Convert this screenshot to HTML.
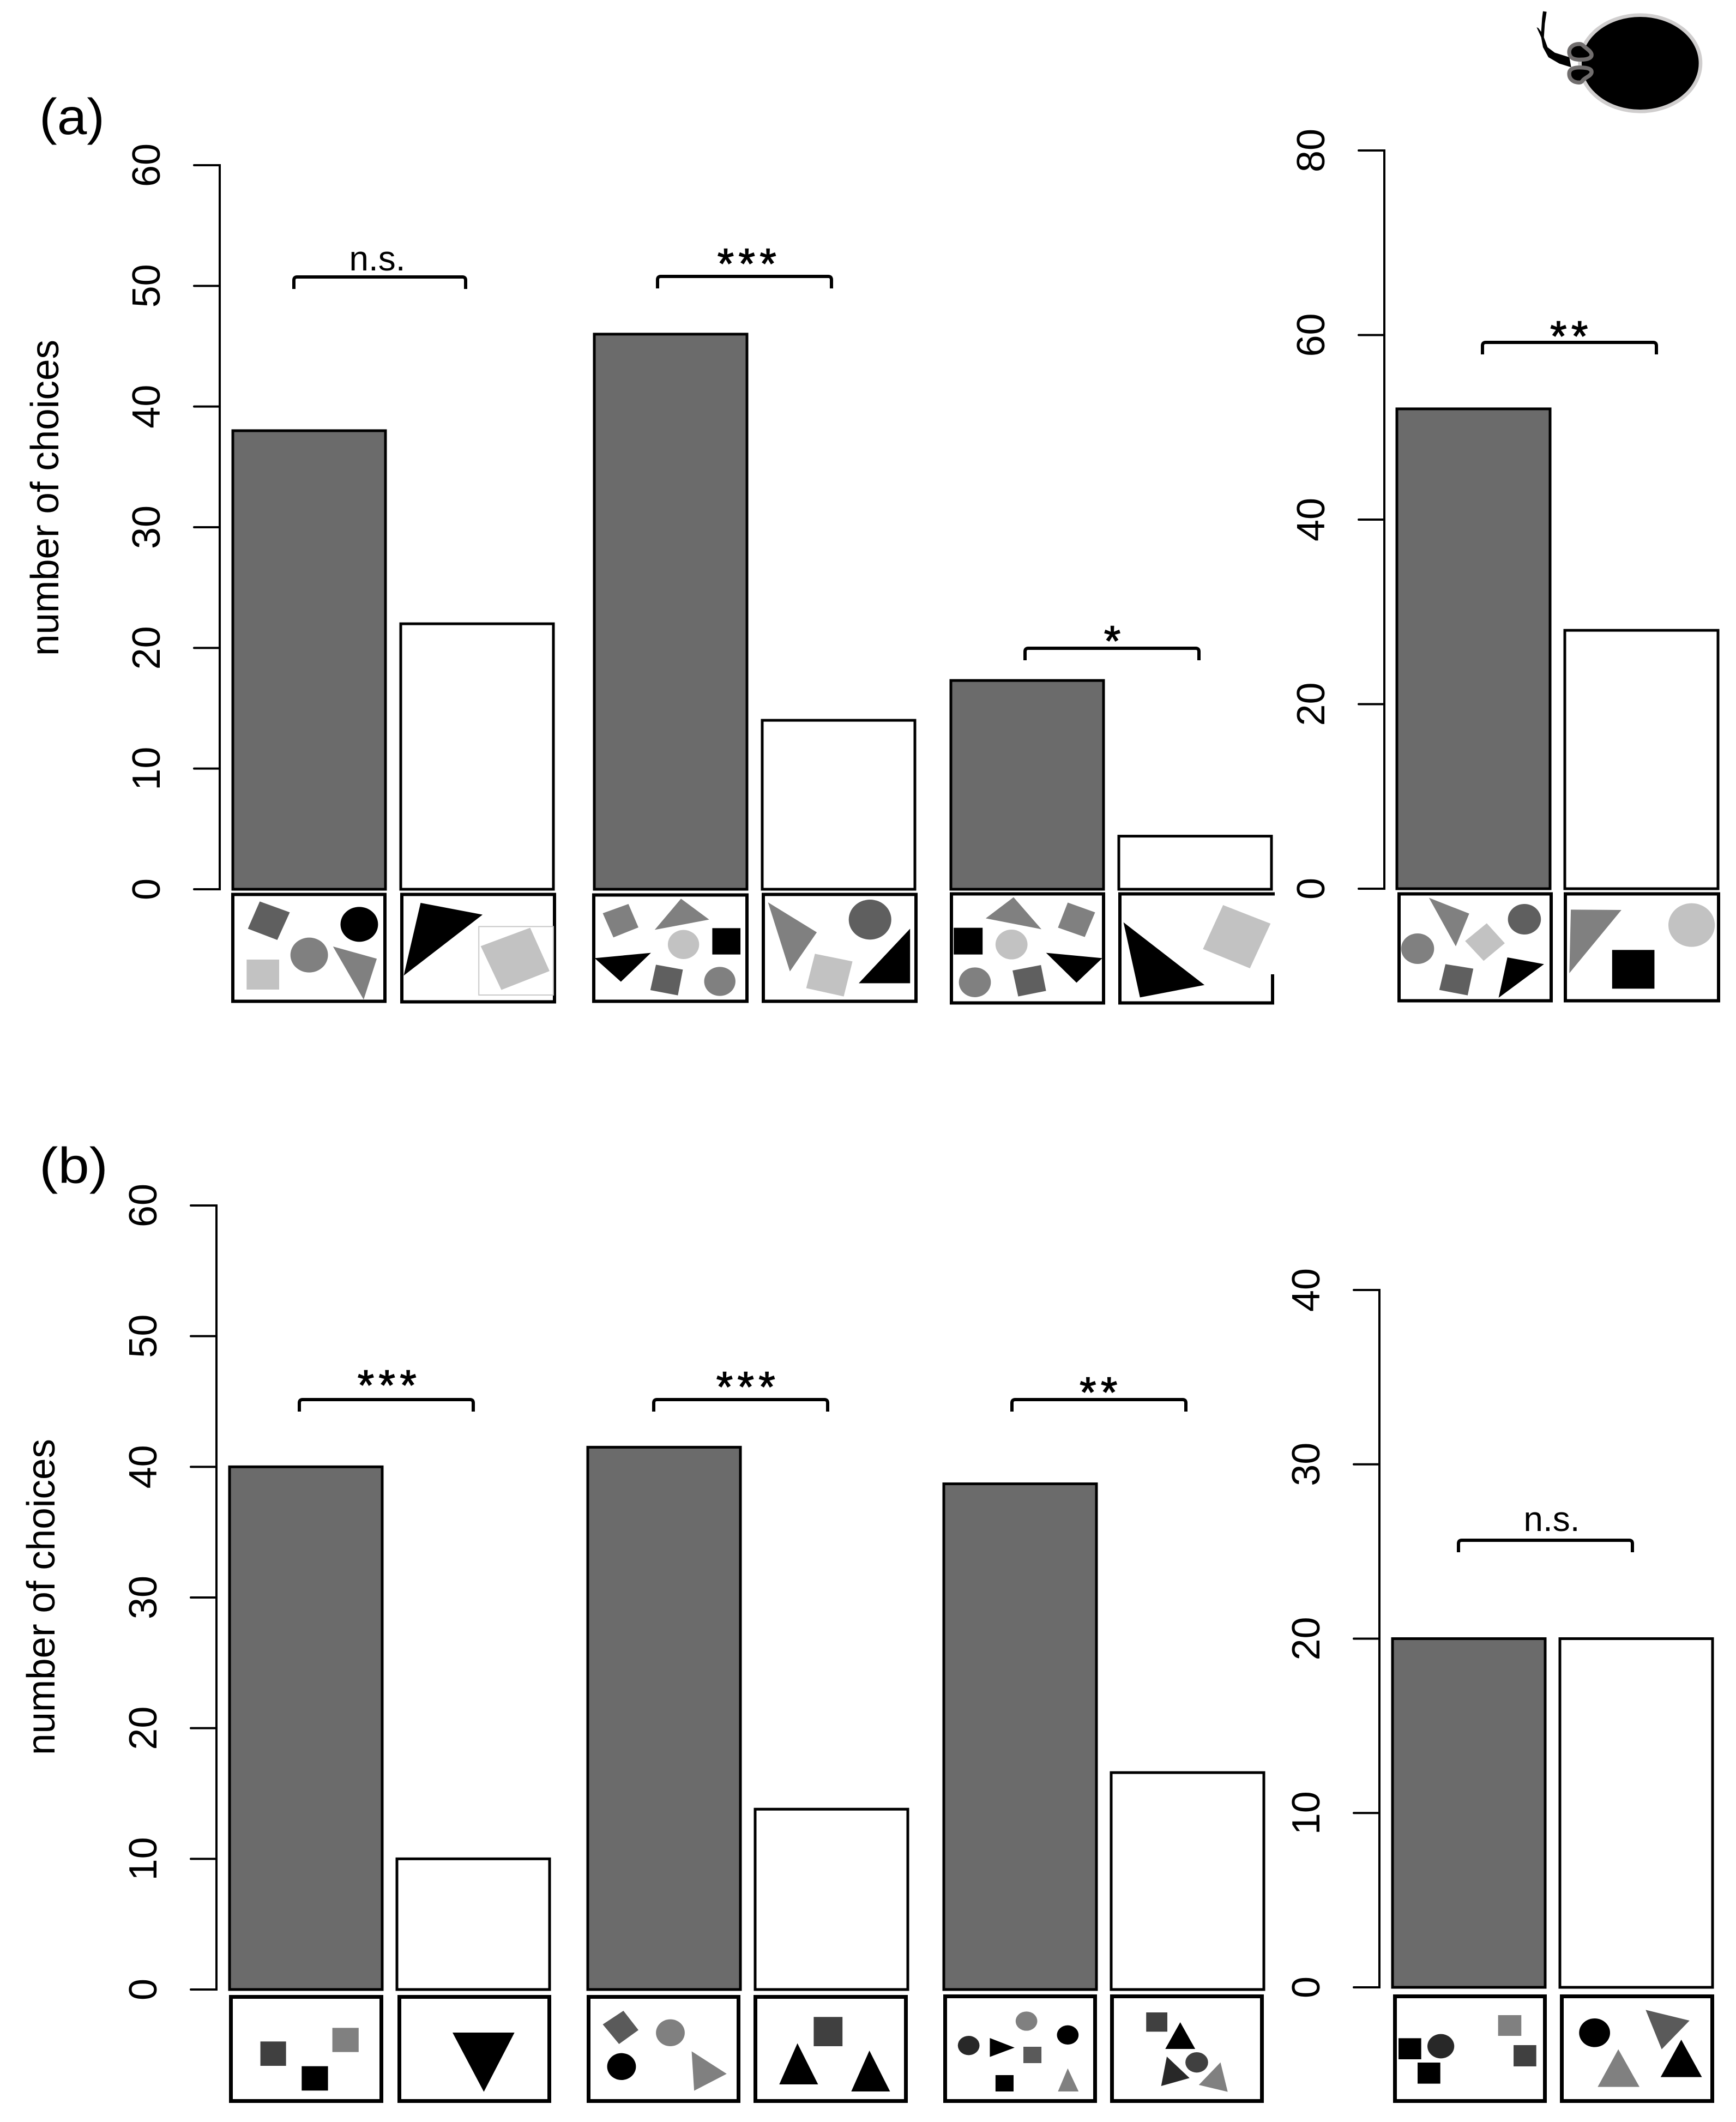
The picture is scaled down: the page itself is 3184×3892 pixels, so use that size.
<!DOCTYPE html>
<html lang="en">
<head>
<meta charset="utf-8">
<title>Number of choices by stimulus pair</title>
<style>
html,body{margin:0;padding:0;background:#fff;}
svg{display:block;}
text{font-family:"Liberation Sans",sans-serif;fill:#000;}
.box{fill:#fff;stroke:#000;}
.br{fill:none;stroke:#000;stroke-width:6;stroke-linejoin:round;}
.star{stroke:#000;stroke-width:1.5;}
</style>
</head>
<body>
<svg id="chart" xmlns="http://www.w3.org/2000/svg" width="3184" height="3892" viewBox="0 0 3184 3892">
<rect x="0" y="0" width="3184" height="3892" fill="#fff"/>

<text x="72" y="246" font-size="93" textLength="120" lengthAdjust="spacingAndGlyphs">(a)</text>
<text x="72" y="2170" font-size="93" textLength="126" lengthAdjust="spacingAndGlyphs">(b)</text>
<text transform="rotate(-90 107 913)" x="107" y="913" font-size="72" text-anchor="middle" textLength="580" lengthAdjust="spacingAndGlyphs">number of choices</text>
<text transform="rotate(-90 100 2929)" x="100" y="2929" font-size="72" text-anchor="middle" textLength="580" lengthAdjust="spacingAndGlyphs">number of choices</text>

<g id="bars-layer"></g>

<!-- significance brackets -->
<g>
<path class="br" d="M539,530V514Q539,508 545,508H848Q854,508 854,514V530"/>
<text x="692" y="496" font-size="64" text-anchor="middle">n.s.</text>
<path class="br" d="M1206,529V513Q1206,507 1212,507H1519Q1525,507 1525,513V529"/>
<text class="star" x="1374" y="510" font-size="78" letter-spacing="8.5" text-anchor="middle">***</text>
<path class="br" d="M1880,1211V1195Q1880,1189 1886,1189H2193Q2199,1189 2199,1195V1211"/>
<text class="star" x="2040" y="1202" font-size="78" text-anchor="middle">*</text>
<path class="br" d="M2719,650V634Q2719,628 2725,628H3032Q3038,628 3038,634V650"/>
<text class="star" x="2882" y="643" font-size="78" letter-spacing="8.5" text-anchor="middle">**</text>
<path class="br" d="M549,2589V2573Q549,2567 555,2567H862Q868,2567 868,2573V2589"/>
<text class="star" x="714" y="2567" font-size="78" letter-spacing="8.5" text-anchor="middle">***</text>
<path class="br" d="M1199,2589V2573Q1199,2567 1205,2567H1512Q1518,2567 1518,2573V2589"/>
<text class="star" x="1372" y="2570" font-size="78" letter-spacing="8.5" text-anchor="middle">***</text>
<path class="br" d="M1856,2589V2573Q1856,2567 1862,2567H2169Q2175,2567 2175,2573V2589"/>
<text class="star" x="2019" y="2580" font-size="78" letter-spacing="8.5" text-anchor="middle">**</text>
<path class="br" d="M2675,2847V2831Q2675,2825 2681,2825H2988Q2994,2825 2994,2831V2847"/>
<text x="2846" y="2808" font-size="64" text-anchor="middle">n.s.</text>
</g>

<!-- stimulus frames, panel a -->
<g stroke-width="6">
<rect class="box" x="427" y="1640.5" width="279" height="196"/>
<rect class="box" x="737" y="1640.5" width="280" height="197"/>
<rect class="box" x="1089" y="1641.5" width="281" height="195"/>
<rect class="box" x="1400" y="1640.5" width="280" height="196"/>
<path d="M1745,1639.5H2024V1839.5H1745Z" fill="#fff" stroke="#000"/>
<path d="M2338,1639.5H2054V1839.5H2334V1787" fill="#fff" stroke="#000"/>
<rect class="box" x="2566" y="1639.5" width="279" height="196"/>
<rect class="box" x="2871" y="1639.5" width="281" height="196"/>
</g>
<!-- stimulus frames, panel b -->
<g stroke-width="7">
<rect class="box" x="423.5" y="3662.5" width="276" height="191"/>
<rect class="box" x="732.5" y="3662.5" width="275" height="191"/>
<rect class="box" x="1079.5" y="3662.5" width="275" height="191"/>
<rect class="box" x="1385.5" y="3662.5" width="276" height="191"/>
<rect class="box" x="1733.5" y="3661.5" width="275" height="192"/>
<rect class="box" x="2039.5" y="3661.5" width="275" height="192"/>
<rect class="box" x="2558.5" y="3661.5" width="275" height="192"/>
<rect class="box" x="2864.5" y="3661.5" width="276" height="192"/>
</g>

<!-- stimulus shapes -->
<g transform="translate(0,1500) scale(1.148,0.33333)">
<polygon points="415,460 463,520 443,672 396,610" fill="#5f5f5f"/>
<ellipse cx="574" cy="586" rx="30" ry="96" fill="#000"/>
<ellipse cx="494" cy="755" rx="30" ry="96" fill="#808080"/>
<rect x="394" y="780" width="52" height="165" fill="#c2c2c2"/>
<polygon points="532,708 602,775 581,1000" fill="#808080"/>
<polygon points="672,468 771,533 645,868" fill="#000"/>
<rect x="765" y="598" width="119" height="377" fill="none" stroke="#c8c8c8" stroke-width="2" vector-effect="non-scaling-stroke"/>
<polygon points="847,605 878,843 801,947 768,706" fill="#c2c2c2"/>
<polygon points="1004,474 1020,603 980,658 963,525" fill="#808080"/>
<polygon points="1088,445 1133,560 1046,616" fill="#808080"/>
<ellipse cx="1092" cy="697" rx="25" ry="80" fill="#c2c2c2"/>
<rect x="1138" y="607" width="45" height="145" fill="#000"/>
<polygon points="950,772 1040,743 992,902" fill="#000"/>
<polygon points="1048,808 1091,835 1083,977 1039,948" fill="#5f5f5f"/>
<ellipse cx="1150" cy="900" rx="25" ry="80" fill="#808080"/>
<polygon points="1227,465 1305,630 1262,845" fill="#808080"/>
<ellipse cx="1390" cy="560" rx="34" ry="110" fill="#5f5f5f"/>
<polygon points="1454,610 1454,910 1372,910" fill="#000"/>
<polygon points="1302,748 1362,790 1348,983 1288,937" fill="#c2c2c2"/>
</g>
<g transform="translate(1700,1500) scale(0.9464,0.33333)">
<polygon points="168,437 222,613 114,553" fill="#808080"/>
<polygon points="273,466 326,520 306,656 254,604" fill="#808080"/>
<rect x="52" y="605" width="56" height="147" fill="#000"/>
<ellipse cx="164" cy="697" rx="31" ry="82" fill="#c2c2c2"/>
<polygon points="231,743 340,772 290,907" fill="#000"/>
<ellipse cx="93" cy="905" rx="31" ry="82" fill="#808080"/>
<polygon points="221,810 231,952 177,983 166,840" fill="#5f5f5f"/>
<polygon points="574,480 666,582 626,828 535,722" fill="#c2c2c2"/>
<polygon points="381,575 538,920 413,988" fill="#000"/>
<polygon points="973,440 1051,527 1025,707" fill="#808080"/>
<ellipse cx="1158" cy="558" rx="32" ry="84" fill="#5f5f5f"/>
<polygon points="1085,580 1120,690 1079,787 1043,678" fill="#c2c2c2"/>
<ellipse cx="951" cy="720" rx="32" ry="84" fill="#808080"/>
<polygon points="1005,805 1059,830 1048,977 993,947" fill="#5f5f5f"/>
<polygon points="1125,768 1196,805 1108,990" fill="#000"/>
<polygon points="1248,505 1346,507 1245,855" fill="#808080"/>
<ellipse cx="1482" cy="590" rx="45" ry="120" fill="#c2c2c2"/>
<rect x="1328" y="727" width="82" height="213" fill="#000"/>
</g>
<g transform="translate(0,3560) scale(1.148,0.33333)">
<rect x="416" y="553" width="41" height="134" fill="#404040"/>
<rect x="531" y="478" width="42" height="133" fill="#808080"/>
<rect x="482" y="689" width="42" height="134" fill="#000"/>
<polygon points="723,504 822,504 773,830" fill="#000"/>
<polygon points="996,384 1020,490 989,567 963,459" fill="#5a5a5a"/>
<ellipse cx="1071" cy="505" rx="23" ry="74" fill="#808080"/>
<ellipse cx="993" cy="691" rx="23" ry="74" fill="#000"/>
<polygon points="1105,607 1161,731 1109,824" fill="#808080"/>
<rect x="1300" y="418" width="46" height="161" fill="#404040"/>
<polygon points="1274,563 1307,789 1245,789" fill="#000"/>
<polygon points="1389,603 1422,828 1360,828" fill="#000"/>
</g>
<g transform="translate(1700,3560) scale(0.9464,0.33333)">
<ellipse cx="81" cy="575" rx="21" ry="53" fill="#282828"/>
<polygon points="122,534 170,587 122,638" fill="#000"/>
<ellipse cx="193" cy="441" rx="21" ry="53" fill="#808080"/>
<ellipse cx="273" cy="517" rx="21" ry="53" fill="#000"/>
<rect x="187" y="582" width="35" height="90" fill="#5a5a5a"/>
<rect x="133" y="738" width="35" height="90" fill="#000"/>
<polygon points="273,701 294,828 254,828" fill="#808080"/>
<rect x="425" y="393" width="41" height="106" fill="#404040"/>
<polygon points="491,447 520,594 462,594" fill="#000"/>
<ellipse cx="523" cy="668" rx="22" ry="56" fill="#404040"/>
<polygon points="465,636 509,754 454,798" fill="#282828"/>
<polygon points="569,668 583,830 527,792" fill="#808080"/>
<rect x="1107" y="408" width="45" height="114" fill="#808080"/>
<rect x="914" y="535" width="44" height="116" fill="#000"/>
<ellipse cx="996" cy="579" rx="26" ry="67" fill="#282828"/>
<rect x="1137" y="573" width="44" height="117" fill="#404040"/>
<rect x="951" y="669" width="44" height="116" fill="#000"/>
<ellipse cx="1294" cy="505" rx="30" ry="79" fill="#000"/>
<polygon points="1393,379 1478,438 1424,596" fill="#5a5a5a"/>
<polygon points="1462,543 1502,749 1422,749" fill="#000"/>
<polygon points="1340,596 1381,803 1300,803" fill="#808080"/>
</g>

<!-- animal silhouette -->
<g transform="translate(2780,0) scale(0.33333)">
<ellipse cx="685" cy="348" rx="332" ry="265" fill="#000" stroke="#d0cece" stroke-width="20"/>
<path d="M150,62 L170,65 L160,130 L155,205 L175,260 L215,290 L295,315 L305,370 L240,350 L180,315 L150,260 L140,205 L115,150 L125,155 L140,175 L145,100 Z" fill="#000"/>
<path d="M350,242 C312,242 290,265 295,295 C300,320 320,330 360,328 C398,328 420,318 417,298 C413,279 385,265 370,250 C362,242 355,242 350,242 Z" fill="#000" stroke="#716e6e" stroke-width="22"/>
<path d="M350,454 C312,454 290,430 295,398 C300,374 330,369 370,372 C403,374 420,382 417,400 C413,418 385,425 370,441 C362,454 355,454 350,454 Z" fill="#000" stroke="#716e6e" stroke-width="22"/>
</g>
</svg>
<script>
// Panel (a), left chart
const groupsALeft = ['set-1', 'set-2', 'set-3'];
const chosenALeft = [38, 46, 17.3];
const otherALeft = [22, 14, 4.4];
const ticksALeft = [0, 10, 20, 30, 40, 50, 60];
// Panel (a), right chart
const groupsARight = ['set-4'];
const chosenARight = [52];
const otherARight = [28];
const ticksARight = [0, 20, 40, 60, 80];
// Panel (b), left chart
const groupsBLeft = ['set-1', 'set-2', 'set-3'];
const chosenBLeft = [40, 41.5, 38.7];
const otherBLeft = [10, 13.8, 16.6];
const ticksBLeft = [0, 10, 20, 30, 40, 50, 60];
// Panel (b), right chart
const groupsBRight = ['set-4'];
const chosenBRight = [20];
const otherBRight = [20];
const ticksBRight = [0, 10, 20, 30, 40];

const SVG_NS = 'http://www.w3.org/2000/svg';
const layer = document.getElementById('bars-layer');

function make(tag, attrs) {
  const el = document.createElementNS(SVG_NS, tag);
  for (const k in attrs) el.setAttribute(k, attrs[k]);
  layer.appendChild(el);
  return el;
}

function drawChart(id, groups, chosen, other, ticks, frame) {
  const maxTick = Math.max.apply(null, ticks);
  const yScale = function (v) { return frame.y0 - v * (frame.y0 - frame.yTop) / maxTick; };
  const xScale = function (g, side) { return frame.starts[g] + side * frame.step; };

  // axis line and ticks
  const axis = make('line', {x1: frame.axisX, x2: frame.axisX, y1: yScale(maxTick) - 2, y2: yScale(0) + 2, stroke: '#000', 'stroke-width': 4});
  
  
  ticks.forEach(function (t) {
    const tick = make('line', {x1: frame.axisX - 47, x2: frame.axisX, y1: yScale(t), y2: yScale(t), stroke: '#000', 'stroke-width': 4, 'stroke-linecap': 'round'});
    
    
    const lx = frame.axisX - 110;
    const ly = yScale(t);
    const label = make('text', {x: lx, y: ly, 'font-size': 72, 'text-anchor': 'middle', transform: 'rotate(-90 ' + lx + ' ' + ly + ')'});
    label.textContent = String(t);
    
    
  });

  // bars
  groups.forEach(function (g, i) {
    [chosen[i], other[i]].forEach(function (v, side) {
      const top = yScale(v);
      const bar = make('rect', {
        x: xScale(i, side) + 1,
        y: top,
        width: frame.barW - 2,
        height: yScale(0) - top,
        fill: side === 0 ? '#6b6b6b' : '#ffffff',
        stroke: '#000',
        'stroke-width': 5
      });
      
      
    });
  });
}

drawChart('a-left', groupsALeft, chosenALeft, otherALeft, ticksALeft, {axisX: 403, y0: 1631, yTop: 303, starts: [426, 1089, 1743], step: 308, barW: 282});
drawChart('a-right', groupsARight, chosenARight, otherARight, ticksARight, {axisX: 2539, y0: 1630, yTop: 276, starts: [2561], step: 308, barW: 283});
drawChart('b-left', groupsBLeft, chosenBLeft, otherBLeft, ticksBLeft, {axisX: 397, y0: 3649, yTop: 2211, starts: [420, 1077, 1730], step: 307, barW: 282});
drawChart('b-right', groupsBRight, chosenBRight, otherBRight, ticksBRight, {axisX: 2530, y0: 3645, yTop: 2366, starts: [2553], step: 307, barW: 282});
</script>
</body>
</html>
